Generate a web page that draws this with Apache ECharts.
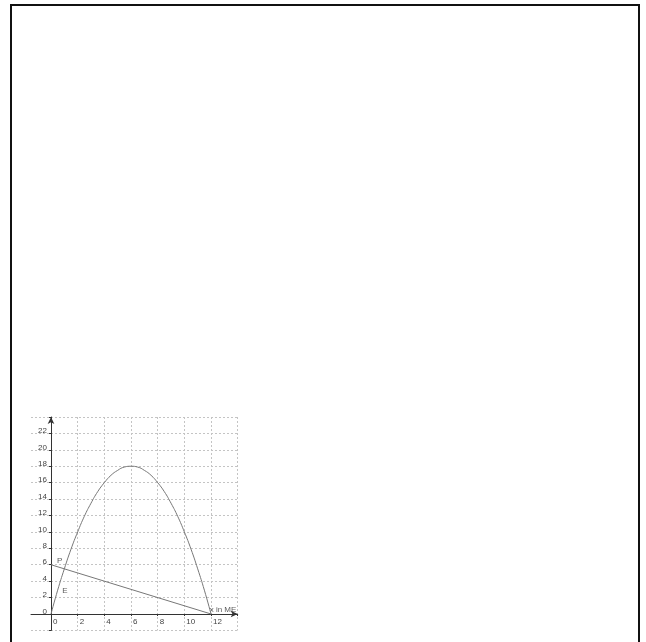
<!DOCTYPE html>
<html>
<head>
<meta charset="utf-8">
<script src="https://cdn.jsdelivr.net/npm/echarts@6/dist/echarts.min.js"></script>
<style>
html, body { margin: 0; padding: 0; background: #fff; }
#main { width: 646px; height: 642px; }
</style>
</head>
<body>
<div id="main"></div>
<script>
// Erlöskurve E
var erloesPunkte = [
	[0, 0], [0.5, 2.9], [1, 5.5], [1.5, 7.9], [2, 10], [2.5, 11.9], [3, 13.5], [3.5, 14.9],
	[4, 16], [4.5, 16.9], [5, 17.5], [5.5, 17.9], [6, 18], [6.5, 17.9], [7, 17.5], [7.5, 16.9],
	[8, 16], [8.5, 14.9], [9, 13.5], [9.5, 11.9], [10, 10], [10.5, 7.9], [11, 5.5], [11.5, 2.9], [12, 0]
];
// Preisgerade P
var preisPunkte = [[0, 6], [12, 0]];
// Beschriftungen
var beschriftungen = [
	{ name: 'P', value: [0.45, 6.5] },
	{ name: 'E', value: [0.85, 2.85] },
	{ name: 'x in ME', value: [11.9, 0.55] }
];
// Achsenwerte
var xTicks = [0, 2, 4, 6, 8, 10, 12, 14];
var xLabels = [0, 2, 4, 6, 8, 10, 12];
var yLabels = [0, 2, 4, 6, 8, 10, 12, 14, 16, 18, 20, 22];

var myChart = echarts.init(document.getElementById('main'));
var fontName = 'Liberation Sans, Arial, sans-serif';

var option = {
	animation: false,
	// Rahmen
	graphic: [{
		type: 'rect',
		shape: { x: 11, y: 5, width: 628, height: 660 },
		style: { fill: 'none', stroke: '#111', lineWidth: 2 }
	}],
	grid: {
		left: 31,
		top: 417,
		width: 206.7,
		height: 213.4
	},
	xAxis: {
		type: 'value',
		min: -1.5,
		max: 14,
		axisLine: {
			onZero: true,
			symbol: ['none', 'arrow'],
			symbolSize: [5, 7],
			lineStyle: { color: '#333', width: 1 }
		},
		axisTick: {
			customValues: xTicks,
			length: 2,
			lineStyle: { color: '#333' }
		},
		axisLabel: {
			customValues: xLabels,
			align: 'left',
			margin: -13,
			padding: [0, 0, 0, 2],
			fontFamily: fontName,
			fontSize: 8,
			color: '#444'
		},
		splitLine: {
			show: true,
			lineStyle: { color: '#c4c4c4', type: [2, 2], width: 1 }
		}
	},
	yAxis: {
		type: 'value',
		min: -2,
		max: 24,
		interval: 2,
		axisLine: {
			onZero: true,
			symbol: ['none', 'arrow'],
			symbolSize: [5, 7],
			lineStyle: { color: '#333', width: 1 }
		},
		axisTick: {
			length: 2,
			lineStyle: { color: '#333' }
		},
		axisLabel: {
			customValues: yLabels,
			margin: -16,
			verticalAlign: 'bottom',
			lineHeight: 5,
			fontFamily: fontName,
			fontSize: 8,
			color: '#444'
		},
		splitLine: {
			show: true,
			lineStyle: { color: '#c4c4c4', type: [2, 2], width: 1 }
		}
	},
	series: [{
		type: 'line',
		data: erloesPunkte,
		smooth: true,
		symbol: 'none',
		lineStyle: { color: '#777', width: 1 }
	}, {
		type: 'line',
		data: preisPunkte,
		symbol: 'none',
		lineStyle: { color: '#777', width: 1 }
	}, {
		type: 'scatter',
		data: beschriftungen,
		symbolSize: 0,
		label: {
			show: true,
			position: 'right',
			distance: 0,
			formatter: '{b}',
			fontFamily: fontName,
			fontSize: 8,
			color: '#333'
		}
	}]
};
myChart.setOption(option);
</script>
</body>
</html>
